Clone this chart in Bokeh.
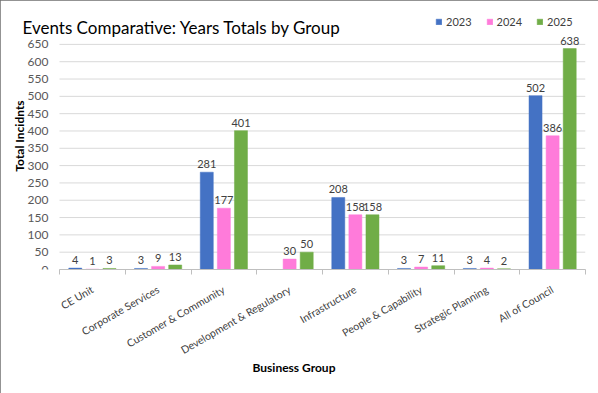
import numpy as np
from bokeh.plotting import figure
from bokeh.layouts import column
from bokeh.models import (ColumnDataSource, Range1d, FixedTicker, Legend, LegendItem,
                          Label)
from bokeh.core.properties import value
from bokeh.transform import dodge
from bokeh.embed import file_html
from bokeh.resources import INLINE

categories = ["CE Unit", "Corporate Services", "Customer & Community",
              "Development & Regulatory", "Infrastructure", "People & Capability",
              "Strategic Planning", "All of Council"]
years = ["2023", "2024", "2025"]
v2023 = [4, 3, 281, np.nan, 208, 3, 3, 502]
v2024 = [1, 9, 177, 30, 158, 7, 4, 386]
v2025 = [3, 13, 401, 50, 158, 11, 2, 638]
y_ticks = list(range(0, 651, 50))

colors = ["#4472C4", "#FF7BDA", "#70AD47"]
FONT = "Lato"
N = len(categories)

xs = np.arange(N) + 0.5

def lab(vals):
    return ["" if (isinstance(v, float) and np.isnan(v)) else str(int(v)) for v in vals]

src = ColumnDataSource(dict(x=xs, y2023=v2023, y2024=v2024, y2025=v2025,
                            t2023=lab(v2023), t2024=lab(v2024), t2025=lab(v2025)))

p = figure(width=598, height=393, output_backend="svg", toolbar_location=None,
           x_range=Range1d(-0.867, N), y_range=Range1d(0, 771),
           min_border_left=2, min_border_right=13, min_border_top=2, min_border_bottom=124)
p.outline_line_color = None
p.background_fill_color = "white"
p.border_fill_color = "white"
p.xgrid.grid_line_color = None
p.ygrid.grid_line_color = None

# horizontal gridlines over the category region only
p.segment(x0=0, x1=N, y0=y_ticks, y1=y_ticks, line_color="#D9D9D9", line_width=1,
          level="underlay")

offsets = [-0.26, 0.0, 0.26]
width = 0.198
items = []
for yr, off, c in zip(years, offsets, colors):
    r = p.vbar(x=dodge("x", off, range=p.x_range), top="y" + yr, width=width, source=src,
               fill_color=c, line_color=c, line_width=0.5)
    p.text(x=dodge("x", off, range=p.x_range), y="y" + yr, text="t" + yr, source=src,
           text_align="center", text_baseline="bottom", y_offset=-4,
           text_font_size="11px", text_color="#404040", text_font=value(FONT))
    items.append(LegendItem(label=yr, renderers=[r]))

legend = Legend(items=items, orientation="horizontal", location=(433, 241),
                border_line_color=None, background_fill_alpha=0, padding=0, margin=0,
                spacing=14, label_standoff=4, glyph_width=7, glyph_height=7,
                label_text_font_size="11px", label_text_color="#404040",
                label_text_font=FONT, label_height=14)
p.add_layout(legend, "center")

title = Label(x=20, y=242, x_units="screen", y_units="screen",
              text="Events Comparative: Years Totals by Group",
              text_font=FONT, text_font_size="17px", text_color="black",
              text_baseline="alphabetic")
p.add_layout(title)

# y axis (fixed at the left edge of the category region)
yax = p.yaxis[0]
yax.fixed_location = 0
yax.ticker = FixedTicker(ticks=y_ticks)
yax.axis_line_color = None
yax.major_tick_line_color = None
yax.major_tick_out = 0
yax.minor_tick_line_color = None
yax.major_label_standoff = 11
yax.major_label_text_font_size = "12px"
yax.major_label_text_color = "#595959"
yax.major_label_text_font = FONT
yax.axis_label = "Total Incidnts"
yax.axis_label_text_font_style = "bold"
yax.axis_label_text_font_size = "12px"
yax.axis_label_text_font = FONT
yax.axis_label_text_color = "black"
yax.axis_label_standoff = -2

# x axis
xax = p.xaxis[0]
xax.bounds = (0, N)
xax.ticker = FixedTicker(ticks=list(xs), minor_ticks=list(range(N + 1)))
xax.major_label_overrides = {float(x): c for x, c in zip(xs, categories)}
xax.major_label_orientation = np.pi / 6
xax.major_tick_line_color = None
xax.major_tick_out = 0
xax.minor_tick_line_color = "#BFBFBF"
xax.minor_tick_out = 5
xax.minor_tick_in = 0
xax.axis_line_color = "#BFBFBF"
xax.major_label_standoff = 14
xax.major_label_text_font_size = "10.5px"
xax.major_label_text_color = "#404040"
xax.major_label_text_font = FONT
xax.axis_label = "Business Group"
xax.axis_label_text_font_style = "bold"
xax.axis_label_text_font_size = "12px"
xax.axis_label_text_font = FONT
xax.axis_label_text_color = "black"
xax.axis_label_standoff = -4

layout = column(p, styles={"outline": "1px solid #6F6F6F", "outline-offset": "-1px"})

open("out.html", "w").write(file_html(layout, INLINE))
